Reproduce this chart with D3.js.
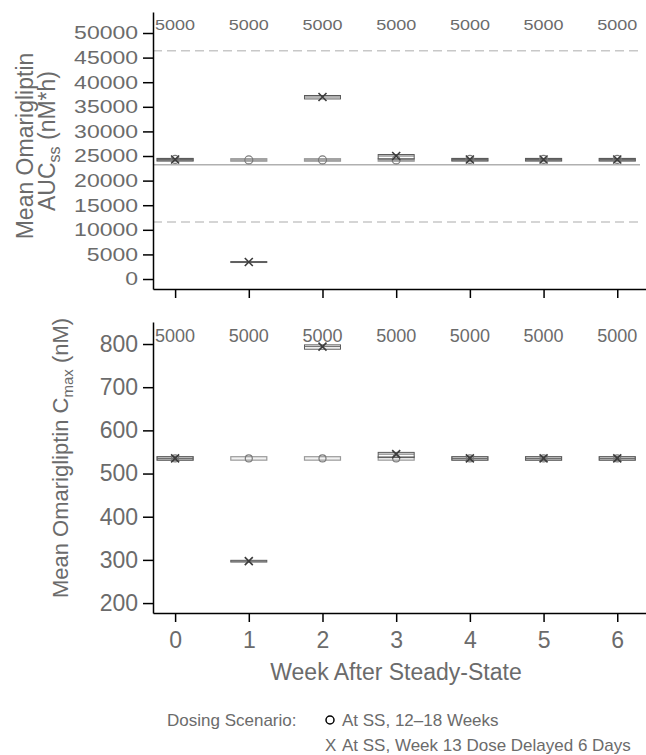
<!DOCTYPE html>
<html lang="en">
<head>
<meta charset="UTF-8">
<title>Omarigliptin exposure by week</title>
<style>
body { margin: 0; background: #fff; }
svg text { font-family: 'Liberation Sans', Arial, sans-serif; fill: #6b6b6b; }
.axis path, .axis line { stroke: #000; stroke-width: 1.5px; }
</style>
</head>
<body>
<svg id="chart" width="646" height="755"></svg>
<script src="https://cdn.jsdelivr.net/npm/d3@7"></script>
<script>
// data
var weeks = [0, 1, 2, 3, 4, 5, 6];
var counts = [5000, 5000, 5000, 5000, 5000, 5000, 5000];

// AUCss (nM*h)
var aucSSMean = [24300, 24200, 24200, 24200, 24300, 24300, 24300];
var aucSSLo   = [24000, 23950, 23950, 23950, 24000, 24000, 24000];
var aucSSHi   = [24500, 24450, 24450, 24450, 24500, 24500, 24500];
var aucDelMean = [24300, 3450, 37000, 25000, 24300, 24300, 24300];
var aucDelLo   = [24000, 3350, 36600, 24400, 24000, 24000, 24000];
var aucDelHi   = [24500, 3550, 37300, 25300, 24500, 24500, 24500];
var aucRef = 23200, aucRefLo = 11600, aucRefHi = 46400;

// Cmax (nM)
var cmaxSSMean = [535, 535, 535, 535, 535, 535, 535];
var cmaxSSLo   = [531, 531, 531, 531, 531, 531, 531];
var cmaxSSHi   = [539, 539, 539, 539, 539, 539, 539];
var cmaxDelMean = [535, 297, 794, 545, 535, 535, 535];
var cmaxDelLo   = [531, 295, 788, 537, 531, 531, 531];
var cmaxDelHi   = [539, 299, 798, 549, 539, 539, 539];

var aucTicks = d3.range(0, 50001, 5000);
var cmaxTicks = d3.range(200, 801, 100);

var svg = d3.select("#chart");
var x = d3.scaleLinear().domain([-0.3, 6.39]).range([153, 646]);
var halfW = 18;

function series(mean, lo, hi) {
  return weeks.map(function (w, i) { return {week: w, mean: mean[i], lo: lo[i], hi: hi[i]}; });
}

function panel(opt) {
  var y = d3.scaleLinear().domain(opt.domain).range(opt.range);
  var g = svg.append("g");

  // reference lines
  (opt.refs || []).forEach(function (r) {
    g.append("line")
      .attr("x1", x.range()[0]).attr("x2", 640)
      .attr("y1", y(r.v)).attr("y2", y(r.v))
      .attr("stroke", r.dash ? "#c8c8c8" : "#b0b0b0")
      .attr("stroke-width", 1.5)
      .attr("stroke-dasharray", r.dash ? "9,5" : null);
  });

  // boxes: reference scenario first, delayed on top
  var ss = series(opt.ssMean, opt.ssLo, opt.ssHi);
  var del = series(opt.delMean, opt.delLo, opt.delHi);

  g.selectAll(".boxSS").data(ss).enter().append("rect")
    .attr("x", function (d) { return x(d.week) - halfW; })
    .attr("width", halfW * 2)
    .attr("y", function (d) { return y(d.hi); })
    .attr("height", function (d) { return Math.max(0.5, y(d.lo) - y(d.hi)); })
    .attr("fill", opt.ssFill)
    .attr("stroke", "#9a9a9a").attr("stroke-width", 1.2);

  g.selectAll(".boxDel").data(del).enter().append("rect")
    .attr("x", function (d) { return x(d.week) - halfW; })
    .attr("width", halfW * 2)
    .attr("y", function (d) { return y(d.hi); })
    .attr("height", function (d) { return Math.max(0.5, y(d.lo) - y(d.hi)); })
    .attr("fill", "none")
    .attr("stroke", "#5a5a5a").attr("stroke-width", 1);

  g.selectAll(".medDel").data(del).enter().append("line")
    .attr("x1", function (d) { return x(d.week) - halfW; })
    .attr("x2", function (d) { return x(d.week) + halfW; })
    .attr("y1", function (d) { return y(d.mean); })
    .attr("y2", function (d) { return y(d.mean); })
    .attr("stroke", "#666").attr("stroke-width", 1);

  // markers
  g.selectAll(".mSS").data(ss).enter().append("circle")
    .attr("cx", function (d) { return x(d.week); })
    .attr("cy", function (d) { return y(d.mean); })
    .attr("r", opt.r)
    .attr("fill", "none").attr("stroke", "#7a7a7a").attr("stroke-width", 1.2);

  var s = 4;
  g.selectAll(".mDel").data(del).enter().append("path")
    .attr("d", function (d) {
      var cx = x(d.week), cy = y(d.mean);
      return "M" + (cx - s) + "," + (cy - s) + "L" + (cx + s) + "," + (cy + s) +
             "M" + (cx - s) + "," + (cy + s) + "L" + (cx + s) + "," + (cy - s);
    })
    .attr("stroke", "#3c3c3c").attr("stroke-width", 1.6);

  // counts
  g.selectAll(".cnt").data(counts).enter().append("text")
    .attr("transform", function (d, i) { return "translate(" + x(weeks[i]) + "," + opt.countY + ") scale(1," + opt.sy + ")"; })
    .attr("text-anchor", "middle")
    .style("font-size", "18px")
    .text(function (d) { return d; });

  // axes
  var ya = g.append("g").attr("class", "axis")
    .attr("transform", "translate(" + x.range()[0] + ",0)")
    .call(d3.axisLeft(y).tickValues(opt.ticks).tickFormat(d3.format("d"))
      .tickSize(10).tickSizeOuter(0).tickPadding(5));
  ya.selectAll("text")
    .style("font-size", "23px")
    .attr("transform", "scale(1," + opt.sy + ")");

  var xa = g.append("g").attr("class", "axis")
    .attr("transform", "translate(0," + opt.range[0] + ")")
    .call(d3.axisBottom(x).tickValues(weeks).tickFormat(d3.format("d"))
      .tickSize(9).tickSizeOuter(0).tickPadding(10));
  xa.selectAll("text").style("font-size", "23px");
  if (!opt.xLabels) xa.selectAll("text").remove();
  return g;
}

panel({
  domain: [-2030, 54270], range: [289, 12], ticks: aucTicks, sy: 0.8,
  ssMean: aucSSMean, ssLo: aucSSLo, ssHi: aucSSHi,
  delMean: aucDelMean, delLo: aucDelLo, delHi: aucDelHi,
  refs: [{v: aucRef}, {v: aucRefLo, dash: true}, {v: aucRefHi, dash: true}],
  ssFill: "#a8a8a8", r: 4, countY: 30, xLabels: false
});

panel({
  domain: [177, 851], range: [613, 322], ticks: cmaxTicks, sy: 1,
  ssMean: cmaxSSMean, ssLo: cmaxSSLo, ssHi: cmaxSSHi,
  delMean: cmaxDelMean, delLo: cmaxDelLo, delHi: cmaxDelHi,
  refs: [],
  ssFill: "#f2f2f2", r: 3.5, countY: 342, xLabels: true
});

// y titles
var t1 = svg.append("text").attr("text-anchor", "middle")
  .attr("transform", "translate(33,146) rotate(-90)").style("font-size", "23px")
  .text("Mean Omarigliptin");
var t2 = svg.append("text").attr("text-anchor", "middle")
  .attr("transform", "translate(55,141) rotate(-90)").style("font-size", "23px");
t2.append("tspan").text("AUC");
t2.append("tspan").attr("dy", 5).style("font-size", "16px").text("ss");
t2.append("tspan").attr("dy", -5).text(" (nM*h)");

var t3 = svg.append("text").attr("text-anchor", "middle")
  .attr("transform", "translate(68,458) rotate(-90)").style("font-size", "22px");
t3.append("tspan").text("Mean Omarigliptin C");
t3.append("tspan").attr("dy", 5).style("font-size", "15px").text("max");
t3.append("tspan").attr("dy", -5).text(" (nM)");

// x title
svg.append("text").attr("x", 396).attr("y", 680).attr("text-anchor", "middle")
  .style("font-size", "23px").text("Week After Steady-State");

// legend
var leg = svg.append("g").style("font-size", "17px");
leg.append("text").attr("x", 167).attr("y", 726).text("Dosing Scenario:");
leg.append("circle").attr("cx", 330).attr("cy", 720).attr("r", 4)
  .attr("fill", "none").attr("stroke", "#000").attr("stroke-width", 1.5);
leg.append("text").attr("x", 342).attr("y", 726).text("At SS, 12\u201318 Weeks");
leg.append("text").attr("x", 325).attr("y", 751).text("X");
leg.append("text").attr("x", 342).attr("y", 751).text("At SS, Week 13 Dose Delayed 6 Days");
</script>
</body>
</html>
